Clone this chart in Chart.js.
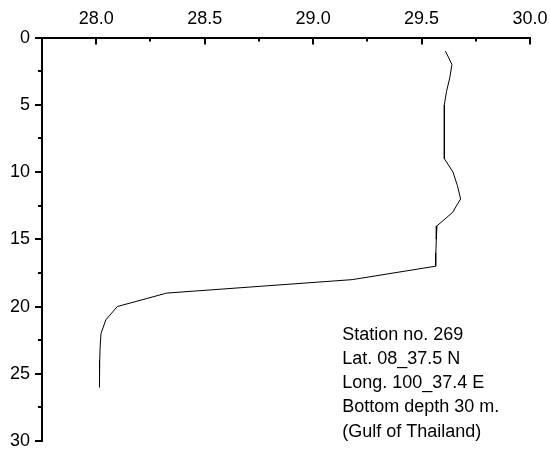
<!DOCTYPE html>
<html>
<head>
<meta charset="utf-8">
<script src="https://cdn.jsdelivr.net/npm/chart.js@4/dist/chart.umd.min.js"></script>
<style>
  html, body { margin: 0; padding: 0; background: #fff; }
</style>
</head>
<body>
<canvas id="profileChart" width="550" height="449"></canvas>
<script>
// Depth (m) and temperature
const depths = [1, 2, 3, 4, 5, 6, 7, 8, 9, 10, 11, 12, 13, 14, 15, 16, 17, 18, 19, 20, 21, 22, 23, 24, 25, 26];
const temps = [29.61, 29.64, 29.63, 29.615, 29.605, 29.604, 29.604, 29.605, 29.607, 29.645, 29.665, 29.68, 29.643, 29.571, 29.568, 29.566, 29.565, 29.18, 28.325, 28.097, 28.044, 28.022, 28.018, 28.016, 28.015, 28.015];

const xLabelValues = [28.0, 28.5, 29.0, 29.5, 30.0];
const yLabelValues = [0, 5, 10, 15, 20, 25, 30];

const stationNotes = [
  "Station no. 269",
  "Lat. 08_37.5 N",
  "Long. 100_37.4 E",
  "Bottom depth 30 m.",
  "(Gulf of Thailand)",
];

const FONT = "Arial, 'Liberation Sans', sans-serif";

// ticks are drawn by hand: x ticks point into the plot, minor ticks are shorter
const tickPlugin = {
  id: "ticks",
  afterDraw(chart) {
    const ctx = chart.ctx;
    const xs = chart.scales.x;
    const ys = chart.scales.y;
    const area = chart.chartArea;
    ctx.save();
    ctx.strokeStyle = "#000";
    ctx.lineWidth = 2;
    for (let v = 28.0; v <= 30.0001; v += 0.25) {
      const px = Math.round(xs.getPixelForValue(v));
      const major = Math.abs(v * 2 - Math.round(v * 2)) < 1e-6;
      ctx.beginPath();
      ctx.moveTo(px, area.top);
      ctx.lineTo(px, area.top + (major ? 7 : 4));
      ctx.stroke();
    }
    for (let d = 0; d <= 30; d += 2.5) {
      const py = Math.round(ys.getPixelForValue(d));
      const major = d % 5 === 0;
      ctx.beginPath();
      ctx.moveTo(area.left, py);
      ctx.lineTo(area.left - (major ? 7 : 4), py);
      ctx.stroke();
    }

    // station notes
    ctx.fillStyle = "#000";
    ctx.font = "18px " + FONT;
    ctx.textBaseline = "middle";
    ctx.textAlign = "left";
    const tx = xs.getPixelForValue(29.134);
    const ty = ys.getPixelForValue(22.1);
    stationNotes.forEach((line, i) => {
      ctx.fillText(line, tx, ty + i * 24.2);
    });
    ctx.restore();
  },
};

function noEdgePadding(scale) {
  scale.paddingTop = 0;
  scale.paddingBottom = 0;
  scale.paddingLeft = 0;
  scale.paddingRight = 0;
}

function drawProfile() {
  const ctx = document.getElementById("profileChart").getContext("2d");
  new Chart(ctx, {
    type: "line",
    data: {
      datasets: [
        {
          data: depths.map((d, i) => ({ x: temps[i], y: d })),
          borderColor: "#000",
          borderWidth: 1,
          pointRadius: 0,
          tension: 0,
          fill: false,
        },
      ],
    },
    options: {
      responsive: false,
      animation: false,
      layout: { padding: { left: -2, right: 20, top: 0, bottom: 8 } },
      plugins: { legend: { display: false }, tooltip: { enabled: false } },
      scales: {
        x: {
          type: "linear",
          position: "top",
          min: 27.75,
          max: 30.0,
          afterBuildTicks: (scale) => {
            scale.ticks = xLabelValues.map((v) => ({ value: v }));
          },
          afterFit: noEdgePadding,
          ticks: {
            color: "#000",
            font: { size: 18, family: FONT },
            padding: 8,
            maxRotation: 0,
            callback: (v) => v.toFixed(1),
          },
          grid: { display: true, drawOnChartArea: false, drawTicks: false },
          border: { display: true, color: "#000", width: 2 },
        },
        y: {
          type: "linear",
          reverse: true,
          min: 0,
          max: 30,
          afterBuildTicks: (scale) => {
            scale.ticks = yLabelValues.map((v) => ({ value: v }));
          },
          afterFit: noEdgePadding,
          ticks: {
            color: "#000",
            font: { size: 18, family: FONT },
            padding: 12,
          },
          grid: { display: true, drawOnChartArea: false, drawTicks: false },
          border: { display: true, color: "#000", width: 2 },
        },
      },
    },
    plugins: [tickPlugin],
  });
}

window.onload = drawProfile;
</script>
</body>
</html>
